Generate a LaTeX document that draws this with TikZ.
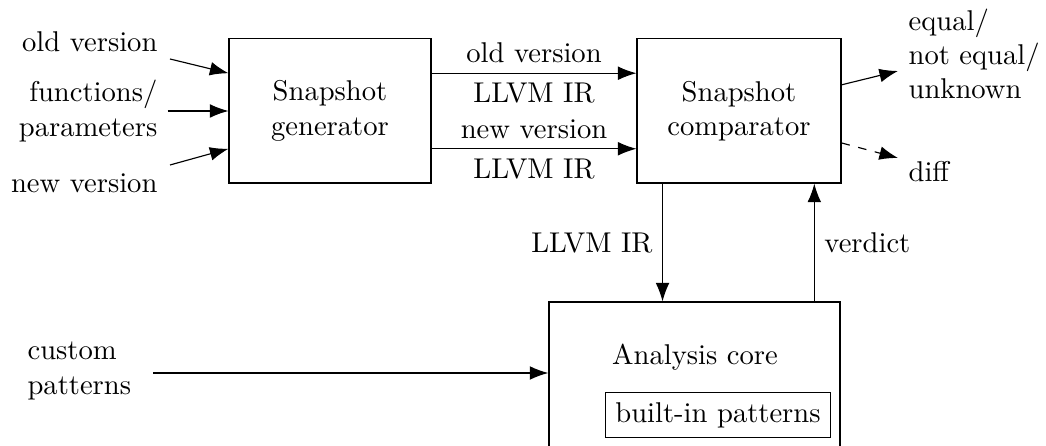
\documentclass[tikz,border=0pt]{standalone}
\usetikzlibrary{arrows.meta, positioning, calc}

\begin{document}
\begin{tikzpicture}[
    x=0.3497pt, y=-0.3497pt,
    block/.style={draw, minimum width=70.6pt, minimum height=50.4pt, align=center},
    arrow/.style={-{Latex[length=6.5pt,width=4.8pt]}},
    label/.style={inner sep=3.33pt}
]
    \useasboundingbox (0,0) rectangle (1046,446);

    % Main blocks
    \node[block] (gen) at (330,111) {Snapshot\\generator};
    \node[block, minimum width=71.3pt] (cmp) at (739,111) {Snapshot\\comparator};
    \node[draw, minimum width=101.8pt, minimum height=58pt] (core) at (694.5,385) {};
    \node (coretitle) at (695,357) {Analysis core};
    \node[draw] (builtin) at (718,415) {built-in patterns};

    % Inputs
    \node[label, anchor=east] (oldin) at (167.5,42) {old version};
    \node[label, anchor=east, align=right] (funcs) at (167.5,111) {functions/\\parameters};
    \node[label, anchor=east] (newin) at (167.5,183) {new version};
    \node[label, anchor=west, align=left] (custom) at (17.5,371) {custom\\patterns};
    \coordinate (oldtail) at (170,59);
    \coordinate (newtail) at (170,165);
    \coordinate (customtail) at (153,373);

    % Outputs
    \node[label, anchor=west, align=left] (result) at (898.5,54) {equal/\\not equal/\\unknown};
    \node[label, anchor=west] (diff) at (898.5,172) {diff};
    \coordinate (resulttip) at (898,71);
    \coordinate (difftip) at (898,158);

    % Connections
    \draw[arrow] (oldtail) -- ($(gen.north west)!0.24!(gen.south west)$);
    \draw[arrow] (funcs.east) -- (gen.west);
    \draw[arrow] (newtail) -- ($(gen.north west)!0.76!(gen.south west)$);
    \draw[arrow] ($(gen.north east)!0.24!(gen.south east)$) -- ($(cmp.north west)!0.24!(cmp.south west)$)
        node[label, midway, above] {old version} node[label, midway, below] {LLVM IR};
    \draw[arrow] ($(gen.north east)!0.76!(gen.south east)$) -- ($(cmp.north west)!0.76!(cmp.south west)$)
        node[label, midway, above] {new version} node[label, midway, below] {LLVM IR};
    \draw[arrow] ($(cmp.north east)!0.32!(cmp.south east)$) -- (resulttip);
    \draw[arrow, dashed] ($(cmp.north east)!0.72!(cmp.south east)$) -- (difftip);

    \coordinate (irdown) at ($(cmp.south west)!0.127!(cmp.south east)$);
    \draw[arrow] (irdown) -- (irdown |- core.north) node[label, midway, left] {LLVM IR};
    \coordinate (verdictup) at ($(core.north west)!0.91!(core.north east)$);
    \draw[arrow] (verdictup) -- (verdictup |- cmp.south) node[label, midway, right] {verdict};
    \draw[arrow] (customtail) -- (customtail -| core.west);
\end{tikzpicture}
\end{document}
